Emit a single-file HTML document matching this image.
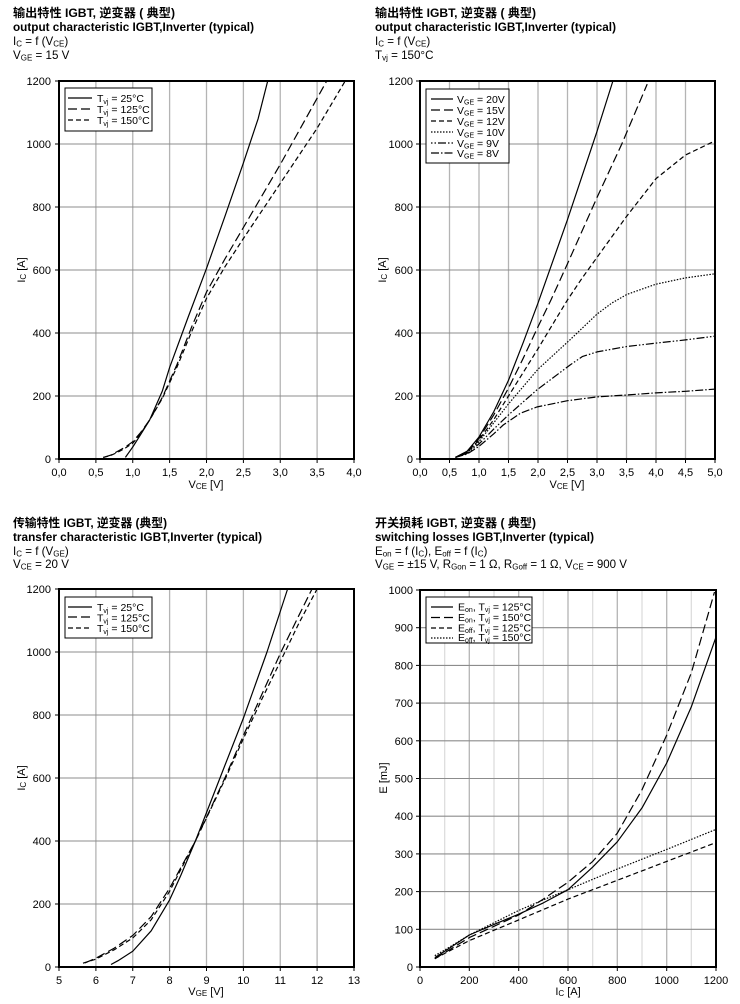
<!DOCTYPE html>
<html><head><meta charset="utf-8"><style>
html,body{margin:0;padding:0;background:#fff;}
svg{display:block;}
text{font-family:"Liberation Sans","Noto Sans CJK SC",sans-serif;fill:#000;}
.t1{font-size:11.8px;font-weight:bold;}
.t3{font-size:11.6px;}
.tk{font-size:11px;}
.lg{font-size:10.5px;}
.gv{stroke:#b4b4b4;stroke-width:1.3;}
.gv2{stroke:#dadada;stroke-width:1.2;}
.gh{stroke:#8c8c8c;stroke-width:1.1;}
.fr{fill:none;stroke:#000;stroke-width:2;}
.tick{stroke:#000;stroke-width:1;}
.c{fill:none;stroke:#000;stroke-width:1.2;stroke-linejoin:round;}
.s{}
.ld{stroke-dasharray:9,4;}
.md{stroke-dasharray:5,3;}
.dt{stroke-dasharray:1.5,1.5;}
.ddl{stroke-dasharray:1.5,2,1.5,2,8,2;}
.dl{stroke-dasharray:8,2,1.5,2;}
</style></head><body>
<svg width="740" height="1004" viewBox="0 0 740 1004" xmlns="http://www.w3.org/2000/svg">

<!-- ================= PLOT 1 ================= -->
<text class="t1" x="13" y="17" textLength="162" lengthAdjust="spacingAndGlyphs">输出特性 IGBT, 逆变器  ( 典型)</text>
<text class="t1" x="13" y="31" textLength="241" lengthAdjust="spacingAndGlyphs">output characteristic IGBT,Inverter (typical)</text>
<text class="t3" x="13" y="45">I<tspan font-size="8" dy="1.5">C</tspan><tspan dy="-1.5"> = f (V</tspan><tspan font-size="8" dy="1.5">CE</tspan><tspan dy="-1.5">)</tspan></text>
<text class="t3" x="13" y="59">V<tspan font-size="8" dy="1.5">GE</tspan><tspan dy="-1.5"> = 15 V</tspan></text>

<g>
<line class="gv" x1="95.9" y1="81" x2="95.9" y2="459"/>
<line class="gv" x1="132.75" y1="81" x2="132.75" y2="459"/>
<line class="gv" x1="169.6" y1="81" x2="169.6" y2="459"/>
<line class="gv" x1="206.5" y1="81" x2="206.5" y2="459"/>
<line class="gv" x1="243.4" y1="81" x2="243.4" y2="459"/>
<line class="gv" x1="280.25" y1="81" x2="280.25" y2="459"/>
<line class="gv" x1="317.1" y1="81" x2="317.1" y2="459"/>
<line class="gh" x1="59" y1="396" x2="354" y2="396"/>
<line class="gh" x1="59" y1="333" x2="354" y2="333"/>
<line class="gh" x1="59" y1="270" x2="354" y2="270"/>
<line class="gh" x1="59" y1="207" x2="354" y2="207"/>
<line class="gh" x1="59" y1="144" x2="354" y2="144"/>
</g>
<g class="tick">
<line x1="55" y1="459" x2="59" y2="459"/><line x1="55" y1="396" x2="59" y2="396"/><line x1="55" y1="333" x2="59" y2="333"/><line x1="55" y1="270" x2="59" y2="270"/><line x1="55" y1="207" x2="59" y2="207"/><line x1="55" y1="144" x2="59" y2="144"/><line x1="55" y1="81" x2="59" y2="81"/>
<line x1="59" y1="459" x2="59" y2="463"/><line x1="95.9" y1="459" x2="95.9" y2="463"/><line x1="132.75" y1="459" x2="132.75" y2="463"/><line x1="169.6" y1="459" x2="169.6" y2="463"/><line x1="206.5" y1="459" x2="206.5" y2="463"/><line x1="243.4" y1="459" x2="243.4" y2="463"/><line x1="280.25" y1="459" x2="280.25" y2="463"/><line x1="317.1" y1="459" x2="317.1" y2="463"/><line x1="354" y1="459" x2="354" y2="463"/>
</g>
<g class="tk" text-anchor="end">
<text x="51" y="463">0</text><text x="51" y="400">200</text><text x="51" y="337">400</text><text x="51" y="274">600</text><text x="51" y="211">800</text><text x="51" y="148">1000</text><text x="51" y="85">1200</text>
</g>
<g class="tk" text-anchor="middle">
<text x="59" y="476">0,0</text><text x="95.9" y="476">0,5</text><text x="132.75" y="476">1,0</text><text x="169.6" y="476">1,5</text><text x="206.5" y="476">2,0</text><text x="243.4" y="476">2,5</text><text x="280.25" y="476">3,0</text><text x="317.1" y="476">3,5</text><text x="354" y="476">4,0</text>
</g>
<text class="tk" x="206" y="488" text-anchor="middle">V<tspan font-size="8" dy="1">CE</tspan><tspan dy="-1"> [V]</tspan></text>
<text class="tk" transform="translate(25,270) rotate(-90)" text-anchor="middle">I<tspan font-size="8" dy="1">C</tspan><tspan dy="-1"> [A]</tspan></text>

<polyline class="c s" points="125.4,457.4 132.75,447 140.1,435.4 149.7,419.9 162.25,391.3 169.6,367.6 188.1,317.25 206.5,268.4 224.9,216.4 243.4,162.9 258.1,118.8 267.7,81"/>
<polyline class="c ld" points="103.25,457.4 110.6,455.2 118,451.1 125.4,447 132.75,441.7 140.1,433.2 149.7,419.9 162.25,397.6 177,364.5 191.75,326.7 206.5,292.05 224.9,259 243.4,227.5 280.25,164.5 326.7,81"/>
<polyline class="c md" points="103.25,457.4 110.6,455.5 118,452.1 125.4,448 132.75,443.25 140.1,434.4 149.7,419.9 162.25,398.5 177,367 191.75,331.4 206.5,298.35 224.9,266.85 243.4,238.5 280.25,183.4 317.1,128.25 345.2,81"/>

<rect x="65" y="88" width="87" height="43" fill="#fff" stroke="#000" stroke-width="1"/>
<line class="c s" x1="68" y1="98" x2="92" y2="98"/>
<line class="c ld" x1="68" y1="109" x2="92" y2="109"/>
<line class="c md" x1="68" y1="120" x2="92" y2="120"/>
<text class="lg" x="97" y="102">T<tspan font-size="7" dy="2">vj</tspan><tspan dy="-2"> = 25°C</tspan></text>
<text class="lg" x="97" y="113">T<tspan font-size="7" dy="2">vj</tspan><tspan dy="-2"> = 125°C</tspan></text>
<text class="lg" x="97" y="124">T<tspan font-size="7" dy="2">vj</tspan><tspan dy="-2"> = 150°C</tspan></text>
<rect class="fr" x="59" y="81" width="295" height="378"/>

<!-- ================= PLOT 2 ================= -->
<text class="t1" x="375" y="17" textLength="161" lengthAdjust="spacingAndGlyphs">输出特性 IGBT, 逆变器  ( 典型)</text>
<text class="t1" x="375" y="31" textLength="241" lengthAdjust="spacingAndGlyphs">output characteristic IGBT,Inverter (typical)</text>
<text class="t3" x="375" y="45">I<tspan font-size="8" dy="1.5">C</tspan><tspan dy="-1.5"> = f (V</tspan><tspan font-size="8" dy="1.5">CE</tspan><tspan dy="-1.5">)</tspan></text>
<text class="t3" x="375" y="59">T<tspan font-size="8" dy="1.5">vj</tspan><tspan dy="-1.5"> = 150°C</tspan></text>

<g>
<line class="gv" x1="449.5" y1="81" x2="449.5" y2="459"/>
<line class="gv" x1="479" y1="81" x2="479" y2="459"/>
<line class="gv" x1="508.5" y1="81" x2="508.5" y2="459"/>
<line class="gv" x1="538" y1="81" x2="538" y2="459"/>
<line class="gv" x1="567.5" y1="81" x2="567.5" y2="459"/>
<line class="gv" x1="597" y1="81" x2="597" y2="459"/>
<line class="gv" x1="626.5" y1="81" x2="626.5" y2="459"/>
<line class="gv" x1="656" y1="81" x2="656" y2="459"/>
<line class="gv" x1="685.5" y1="81" x2="685.5" y2="459"/>
<line class="gh" x1="420" y1="396" x2="715" y2="396"/>
<line class="gh" x1="420" y1="333" x2="715" y2="333"/>
<line class="gh" x1="420" y1="270" x2="715" y2="270"/>
<line class="gh" x1="420" y1="207" x2="715" y2="207"/>
<line class="gh" x1="420" y1="144" x2="715" y2="144"/>
</g>
<g class="tick">
<line x1="416" y1="459" x2="420" y2="459"/><line x1="416" y1="396" x2="420" y2="396"/><line x1="416" y1="333" x2="420" y2="333"/><line x1="416" y1="270" x2="420" y2="270"/><line x1="416" y1="207" x2="420" y2="207"/><line x1="416" y1="144" x2="420" y2="144"/><line x1="416" y1="81" x2="420" y2="81"/>
<line x1="420" y1="459" x2="420" y2="463"/><line x1="449.5" y1="459" x2="449.5" y2="463"/><line x1="479" y1="459" x2="479" y2="463"/><line x1="508.5" y1="459" x2="508.5" y2="463"/><line x1="538" y1="459" x2="538" y2="463"/><line x1="567.5" y1="459" x2="567.5" y2="463"/><line x1="597" y1="459" x2="597" y2="463"/><line x1="626.5" y1="459" x2="626.5" y2="463"/><line x1="656" y1="459" x2="656" y2="463"/><line x1="685.5" y1="459" x2="685.5" y2="463"/><line x1="715" y1="459" x2="715" y2="463"/>
</g>
<g class="tk" text-anchor="end">
<text x="413" y="463">0</text><text x="413" y="400">200</text><text x="413" y="337">400</text><text x="413" y="274">600</text><text x="413" y="211">800</text><text x="413" y="148">1000</text><text x="413" y="85">1200</text>
</g>
<g class="tk" text-anchor="middle">
<text x="420" y="476">0,0</text><text x="449.5" y="476">0,5</text><text x="479" y="476">1,0</text><text x="508.5" y="476">1,5</text><text x="538" y="476">2,0</text><text x="567.5" y="476">2,5</text><text x="597" y="476">3,0</text><text x="626.5" y="476">3,5</text><text x="656" y="476">4,0</text><text x="685.5" y="476">4,5</text><text x="715" y="476">5,0</text>
</g>
<text class="tk" x="567" y="488" text-anchor="middle">V<tspan font-size="8" dy="1">CE</tspan><tspan dy="-1"> [V]</tspan></text>
<text class="tk" transform="translate(386,270) rotate(-90)" text-anchor="middle">I<tspan font-size="8" dy="1">C</tspan><tspan dy="-1"> [A]</tspan></text>

<polyline class="c s" points="455.4,457.4 467.2,451.1 479,436.95 493.75,411.75 508.5,380.25 523.25,342.45 538,303.1 567.5,219.6 597,131.4 612.9,81"/>
<polyline class="c ld" points="455.4,457.4 467.2,451.4 479,438.5 493.75,414.9 508.5,388.1 523.25,358.2 538,326.7 551,299.9 567.5,263.7 597,197.55 621.8,144 647.2,84.15"/>
<polyline class="c md" points="455.4,457.4 467.2,452.1 479,440.1 493.75,419.6 508.5,396 523.25,372.4 538,348.75 552.75,324.2 567.5,299.9 582.25,277.9 597,257.4 626.5,216.45 656,178.65 685.5,155 715,140.85"/>
<polyline class="c dt" points="455.4,457.4 467.2,452.7 479,441.7 493.75,422.8 508.5,403.9 538,369.2 569.9,339.9 597,314.1 611.75,303.1 626.5,294.6 656,284.2 685.5,277.9 715,273.8"/>
<polyline class="c ddl" points="455.4,457.4 467.2,453.3 479,443.9 493.75,429.1 508.5,414.9 536.8,390 569.9,365.1 582.25,356.6 597,351.9 626.5,346.55 656,343.1 685.5,339.9 715,336.15"/>
<polyline class="c dl" points="455.4,457.4 467.2,454 479,446.4 493.75,433.8 503.2,425 520.3,413.3 536.8,407 567.5,400.7 597,396.9 626.5,395 656,392.85 685.5,391.3 715,389.1"/>

<rect x="426" y="89" width="83" height="74" fill="#fff" stroke="#000" stroke-width="1"/>
<line class="c s" x1="431" y1="99" x2="453" y2="99"/>
<line class="c ld" x1="431" y1="110" x2="453" y2="110"/>
<line class="c md" x1="431" y1="121" x2="453" y2="121"/>
<line class="c dt" x1="431" y1="132" x2="453" y2="132"/>
<line class="c ddl" x1="431" y1="143" x2="453" y2="143"/>
<line class="c dl" x1="431" y1="153" x2="453" y2="153"/>
<text class="lg" x="457" y="103">V<tspan font-size="7" dy="1.5">GE</tspan><tspan dy="-1.5"> = 20V</tspan></text>
<text class="lg" x="457" y="114">V<tspan font-size="7" dy="1.5">GE</tspan><tspan dy="-1.5"> = 15V</tspan></text>
<text class="lg" x="457" y="125">V<tspan font-size="7" dy="1.5">GE</tspan><tspan dy="-1.5"> = 12V</tspan></text>
<text class="lg" x="457" y="136">V<tspan font-size="7" dy="1.5">GE</tspan><tspan dy="-1.5"> = 10V</tspan></text>
<text class="lg" x="457" y="147">V<tspan font-size="7" dy="1.5">GE</tspan><tspan dy="-1.5"> = 9V</tspan></text>
<text class="lg" x="457" y="157">V<tspan font-size="7" dy="1.5">GE</tspan><tspan dy="-1.5"> = 8V</tspan></text>
<rect class="fr" x="420" y="81" width="295" height="378"/>

<!-- ================= PLOT 3 ================= -->
<text class="t1" x="13" y="527" textLength="154" lengthAdjust="spacingAndGlyphs">传输特性 IGBT, 逆变器 (典型)</text>
<text class="t1" x="13" y="541" textLength="249" lengthAdjust="spacingAndGlyphs">transfer characteristic IGBT,Inverter (typical)</text>
<text class="t3" x="13" y="555">I<tspan font-size="8" dy="1.5">C</tspan><tspan dy="-1.5"> = f (V</tspan><tspan font-size="8" dy="1.5">GE</tspan><tspan dy="-1.5">)</tspan></text>
<text class="t3" x="13" y="568">V<tspan font-size="8" dy="1.5">CE</tspan><tspan dy="-1.5"> = 20 V</tspan></text>

<g>
<line class="gv" x1="95.9" y1="589" x2="95.9" y2="967"/>
<line class="gv" x1="132.75" y1="589" x2="132.75" y2="967"/>
<line class="gv" x1="169.6" y1="589" x2="169.6" y2="967"/>
<line class="gv" x1="206.5" y1="589" x2="206.5" y2="967"/>
<line class="gv" x1="243.4" y1="589" x2="243.4" y2="967"/>
<line class="gv" x1="280.25" y1="589" x2="280.25" y2="967"/>
<line class="gv" x1="317.1" y1="589" x2="317.1" y2="967"/>
<line class="gh" x1="59" y1="904" x2="354" y2="904"/>
<line class="gh" x1="59" y1="841" x2="354" y2="841"/>
<line class="gh" x1="59" y1="778" x2="354" y2="778"/>
<line class="gh" x1="59" y1="715" x2="354" y2="715"/>
<line class="gh" x1="59" y1="652" x2="354" y2="652"/>
</g>
<g class="tick">
<line x1="55" y1="967" x2="59" y2="967"/><line x1="55" y1="904" x2="59" y2="904"/><line x1="55" y1="841" x2="59" y2="841"/><line x1="55" y1="778" x2="59" y2="778"/><line x1="55" y1="715" x2="59" y2="715"/><line x1="55" y1="652" x2="59" y2="652"/><line x1="55" y1="589" x2="59" y2="589"/>
<line x1="59" y1="967" x2="59" y2="971"/><line x1="95.9" y1="967" x2="95.9" y2="971"/><line x1="132.75" y1="967" x2="132.75" y2="971"/><line x1="169.6" y1="967" x2="169.6" y2="971"/><line x1="206.5" y1="967" x2="206.5" y2="971"/><line x1="243.4" y1="967" x2="243.4" y2="971"/><line x1="280.25" y1="967" x2="280.25" y2="971"/><line x1="317.1" y1="967" x2="317.1" y2="971"/><line x1="354" y1="967" x2="354" y2="971"/>
</g>
<g class="tk" text-anchor="end">
<text x="51" y="971">0</text><text x="51" y="908">200</text><text x="51" y="845">400</text><text x="51" y="782">600</text><text x="51" y="719">800</text><text x="51" y="656">1000</text><text x="51" y="593">1200</text>
</g>
<g class="tk" text-anchor="middle">
<text x="59" y="984">5</text><text x="95.9" y="984">6</text><text x="132.75" y="984">7</text><text x="169.6" y="984">8</text><text x="206.5" y="984">9</text><text x="243.4" y="984">10</text><text x="280.25" y="984">11</text><text x="317.1" y="984">12</text><text x="354" y="984">13</text>
</g>
<text class="tk" x="206" y="995" text-anchor="middle">V<tspan font-size="8" dy="1">GE</tspan><tspan dy="-1"> [V]</tspan></text>
<text class="tk" transform="translate(25,778) rotate(-90)" text-anchor="middle">I<tspan font-size="8" dy="1">C</tspan><tspan dy="-1"> [A]</tspan></text>

<polyline class="c s" points="111,964.5 118,960.7 132.75,951.25 151.2,930.8 169.6,899.9 180.7,875.65 195.4,841 206.5,812.65 224.9,765.4 243.4,718.15 267,652 287.6,589"/>
<polyline class="c ld" points="84.8,962.9 95.9,958.2 114.3,948.1 132.75,935.5 151.2,916.6 169.6,888.25 195.4,841 224.9,778 243.4,735.5 261.8,694.5 280.25,653.6 298.7,615.8 312,589"/>
<polyline class="c md" points="83,963.2 95.9,959.1 114.3,949.7 132.75,938 151.2,919.75 169.6,891.4 195.4,841 224.9,779.6 243.4,738.6 261.8,699.25 285,652 298.7,623.65 317.1,589"/>

<rect x="65" y="597" width="87" height="41" fill="#fff" stroke="#000" stroke-width="1"/>
<line class="c s" x1="68" y1="607" x2="92" y2="607"/>
<line class="c ld" x1="68" y1="617" x2="92" y2="617"/>
<line class="c md" x1="68" y1="628" x2="92" y2="628"/>
<text class="lg" x="97" y="611">T<tspan font-size="7" dy="2">vj</tspan><tspan dy="-2"> = 25°C</tspan></text>
<text class="lg" x="97" y="621.5">T<tspan font-size="7" dy="2">vj</tspan><tspan dy="-2"> = 125°C</tspan></text>
<text class="lg" x="97" y="632">T<tspan font-size="7" dy="2">vj</tspan><tspan dy="-2"> = 150°C</tspan></text>
<rect class="fr" x="59" y="589" width="295" height="378"/>

<!-- ================= PLOT 4 ================= -->
<text class="t1" x="375" y="527" textLength="161" lengthAdjust="spacingAndGlyphs">开关损耗 IGBT, 逆变器  ( 典型)</text>
<text class="t1" x="375" y="541" textLength="219" lengthAdjust="spacingAndGlyphs">switching losses IGBT,Inverter (typical)</text>
<text class="t3" x="375" y="555">E<tspan font-size="8" dy="1.5">on</tspan><tspan dy="-1.5"> = f (I</tspan><tspan font-size="8" dy="1.5">C</tspan><tspan dy="-1.5">), E</tspan><tspan font-size="8" dy="1.5">off</tspan><tspan dy="-1.5"> = f (I</tspan><tspan font-size="8" dy="1.5">C</tspan><tspan dy="-1.5">)</tspan></text>
<text class="t3" x="375" y="568" textLength="252" lengthAdjust="spacingAndGlyphs">V<tspan font-size="8" dy="1.5">GE</tspan><tspan dy="-1.5"> = ±15 V, R</tspan><tspan font-size="8" dy="1.5">Gon</tspan><tspan dy="-1.5"> = 1 Ω, R</tspan><tspan font-size="8" dy="1.5">Goff</tspan><tspan dy="-1.5"> = 1 Ω, V</tspan><tspan font-size="8" dy="1.5">CE</tspan><tspan dy="-1.5"> = 900 V</tspan></text>

<g>
<line class="gv2" x1="444.7" y1="590" x2="444.7" y2="967"/>
<line class="gv" x1="469.3" y1="590" x2="469.3" y2="967"/>
<line class="gv2" x1="494" y1="590" x2="494" y2="967"/>
<line class="gv" x1="518.7" y1="590" x2="518.7" y2="967"/>
<line class="gv2" x1="543.3" y1="590" x2="543.3" y2="967"/>
<line class="gv" x1="568" y1="590" x2="568" y2="967"/>
<line class="gv2" x1="592.7" y1="590" x2="592.7" y2="967"/>
<line class="gv" x1="617.3" y1="590" x2="617.3" y2="967"/>
<line class="gv2" x1="642" y1="590" x2="642" y2="967"/>
<line class="gv" x1="666.7" y1="590" x2="666.7" y2="967"/>
<line class="gv2" x1="691.3" y1="590" x2="691.3" y2="967"/>
<line class="gh" x1="420" y1="929.3" x2="716" y2="929.3"/>
<line class="gh" x1="420" y1="891.6" x2="716" y2="891.6"/>
<line class="gh" x1="420" y1="853.9" x2="716" y2="853.9"/>
<line class="gh" x1="420" y1="816.2" x2="716" y2="816.2"/>
<line class="gh" x1="420" y1="778.5" x2="716" y2="778.5"/>
<line class="gh" x1="420" y1="740.8" x2="716" y2="740.8"/>
<line class="gh" x1="420" y1="703.1" x2="716" y2="703.1"/>
<line class="gh" x1="420" y1="665.4" x2="716" y2="665.4"/>
<line class="gh" x1="420" y1="627.7" x2="716" y2="627.7"/>
</g>
<g class="tick">
<line x1="416" y1="967" x2="420" y2="967"/><line x1="416" y1="929.3" x2="420" y2="929.3"/><line x1="416" y1="891.6" x2="420" y2="891.6"/><line x1="416" y1="853.9" x2="420" y2="853.9"/><line x1="416" y1="816.2" x2="420" y2="816.2"/><line x1="416" y1="778.5" x2="420" y2="778.5"/><line x1="416" y1="740.8" x2="420" y2="740.8"/><line x1="416" y1="703.1" x2="420" y2="703.1"/><line x1="416" y1="665.4" x2="420" y2="665.4"/><line x1="416" y1="627.7" x2="420" y2="627.7"/><line x1="416" y1="590" x2="420" y2="590"/>
<line x1="420" y1="967" x2="420" y2="971"/><line x1="469.3" y1="967" x2="469.3" y2="971"/><line x1="518.7" y1="967" x2="518.7" y2="971"/><line x1="568" y1="967" x2="568" y2="971"/><line x1="617.3" y1="967" x2="617.3" y2="971"/><line x1="666.7" y1="967" x2="666.7" y2="971"/><line x1="716" y1="967" x2="716" y2="971"/>
</g>
<g class="tk" text-anchor="end">
<text x="413" y="971">0</text><text x="413" y="933.3">100</text><text x="413" y="895.6">200</text><text x="413" y="857.9">300</text><text x="413" y="820.2">400</text><text x="413" y="782.5">500</text><text x="413" y="744.8">600</text><text x="413" y="707.1">700</text><text x="413" y="669.4">800</text><text x="413" y="631.7">900</text><text x="413" y="594">1000</text>
</g>
<g class="tk" text-anchor="middle">
<text x="420" y="984">0</text><text x="469.3" y="984">200</text><text x="518.7" y="984">400</text><text x="568" y="984">600</text><text x="617.3" y="984">800</text><text x="666.7" y="984">1000</text><text x="716" y="984">1200</text>
</g>
<text class="tk" x="568" y="995" text-anchor="middle">I<tspan font-size="8" dy="1">C</tspan><tspan dy="-1"> [A]</tspan></text>
<text class="tk" transform="translate(387,778) rotate(-90)" text-anchor="middle">E [mJ]</text>

<polyline class="c s" points="434.8,957.6 444.7,951.2 469.3,935 494,924.4 518.7,914.2 543.3,902.9 568,889.7 592.7,867.1 617.3,841.8 642,807.9 666.7,763 691.3,706.9 716,637.1"/>
<polyline class="c ld" points="434.8,958.7 444.7,952.7 469.3,937.6 494,926.3 518.7,915 543.3,899.1 568,882.2 592.7,861.4 617.3,833.2 642,789.8 666.7,735.1 691.3,672.9 714.5,592"/>
<polyline class="c md" points="434.8,958.7 444.7,953.4 469.3,940.6 518.7,919.9 568,899.1 617.3,880.3 666.7,861.4 716,842.6"/>
<polyline class="c dt" points="434.8,955.7 444.7,950 469.3,935 518.7,910.45 543.3,899.9 568,889.7 617.3,869 666.7,849.4 716,829.4"/>

<rect x="426" y="597" width="106" height="46" fill="#fff" stroke="#000" stroke-width="1"/>
<line class="c s" x1="431" y1="607" x2="453" y2="607"/>
<line class="c ld" x1="431" y1="617.5" x2="453" y2="617.5"/>
<line class="c md" x1="431" y1="628" x2="453" y2="628"/>
<line class="c dt" x1="431" y1="638" x2="453" y2="638"/>
<text class="lg" x="458" y="610.5">E<tspan font-size="7" dy="1.5">on</tspan><tspan dy="-1.5">, T</tspan><tspan font-size="7" dy="1.5">vj</tspan><tspan dy="-1.5"> = 125°C</tspan></text>
<text class="lg" x="458" y="621">E<tspan font-size="7" dy="1.5">on</tspan><tspan dy="-1.5">, T</tspan><tspan font-size="7" dy="1.5">vj</tspan><tspan dy="-1.5"> = 150°C</tspan></text>
<text class="lg" x="458" y="631.5">E<tspan font-size="7" dy="1.5">off</tspan><tspan dy="-1.5">, T</tspan><tspan font-size="7" dy="1.5">vj</tspan><tspan dy="-1.5"> = 125°C</tspan></text>
<text class="lg" x="458" y="641">E<tspan font-size="7" dy="1.5">off</tspan><tspan dy="-1.5">, T</tspan><tspan font-size="7" dy="1.5">vj</tspan><tspan dy="-1.5"> = 150°C</tspan></text>
<rect class="fr" x="420" y="590" width="296" height="377"/>

</svg>
</body></html>
